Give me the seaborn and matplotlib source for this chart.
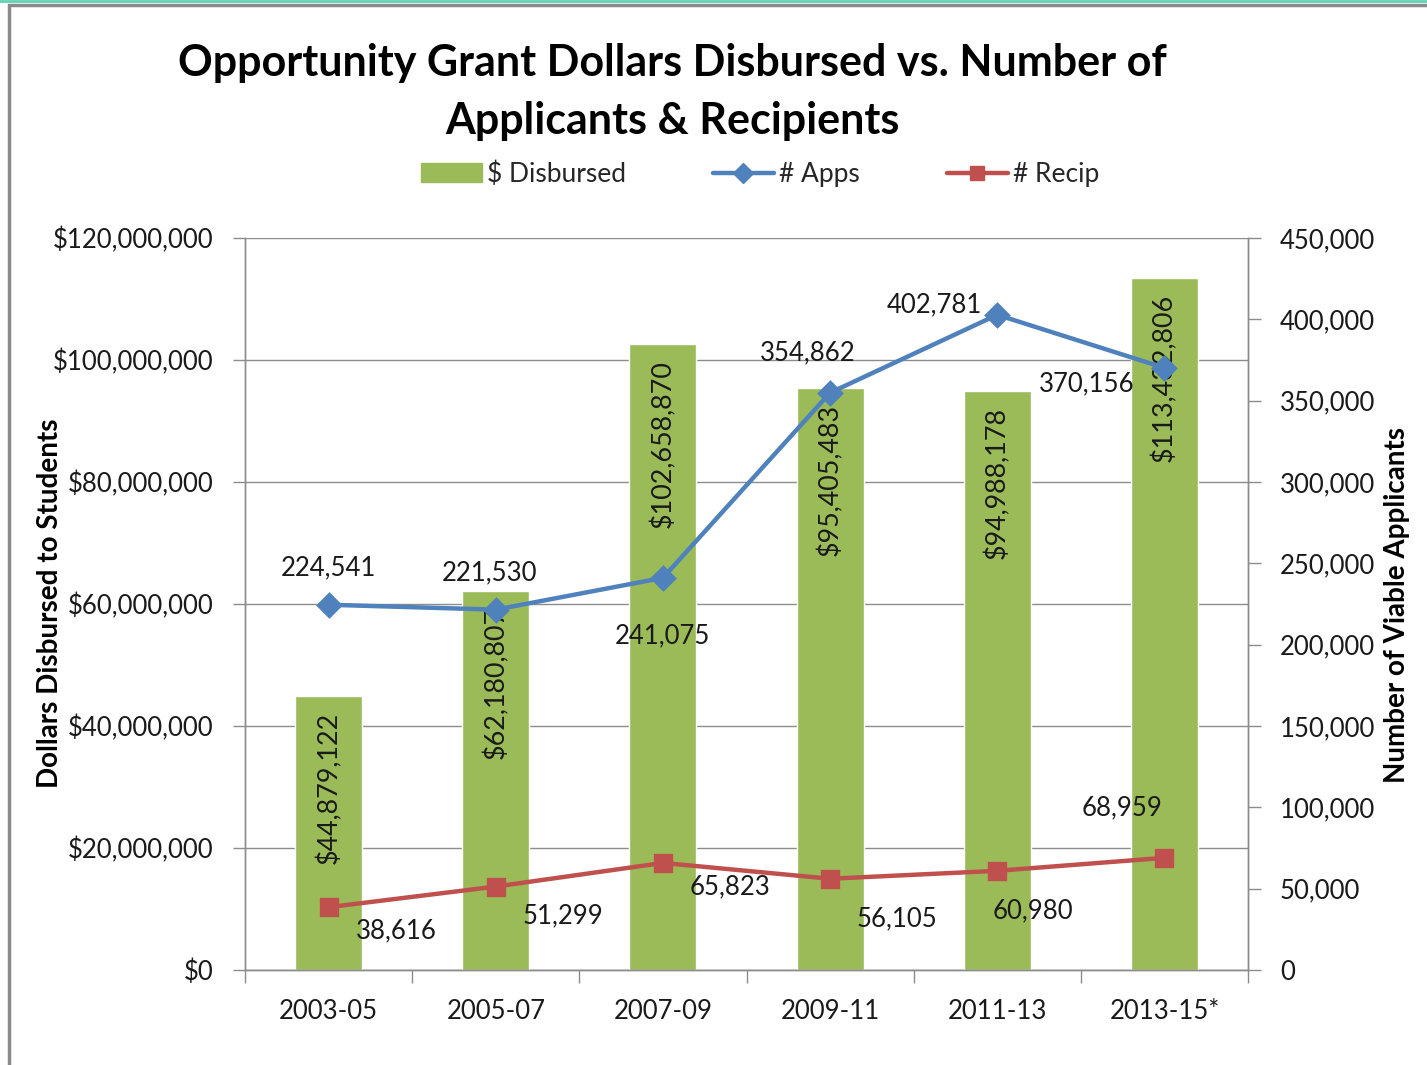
import seaborn as sns
import matplotlib.pyplot as plt
from matplotlib.ticker import FuncFormatter, MultipleLocator, FixedLocator
from matplotlib.patches import Rectangle, Patch
from matplotlib.lines import Line2D

# data
bienniums = ["2003-05", "2005-07", "2007-09", "2009-11", "2011-13", "2013-15*"]
dollars = [44879122, 62180807, 102658870, 95405483, 94988178, 113432806]
apps = [224541, 221530, 241075, 354862, 402781, 370156]
recips = [38616, 51299, 65823, 56105, 60980, 68959]

# label offsets in pixels (dx, dy) relative to each point
apps_off = [(0, 37), (-6, 37), (0, -58), (-22, 40), (-63, 10), (-78, -16)]
recip_off = [(68, -24), (67, -29), (67, -24), (67, -40), (36, -40), (-42, 50)]

GREEN = "#9BBB59"
BLUE = "#4F81BD"
RED = "#C0504D"
GRID = "#8c8c8c"
TXT = "#1a1a1a"
FS = 18.5

sns.set_style("white")
plt.rcParams["font.family"] = ["Lato", "DejaVu Sans"]

W, H = 1427, 1065
fig = plt.figure(figsize=(W / 100, H / 100), dpi=100)
ax = fig.add_axes([245 / W, 1 - 970 / H, (1248 - 245) / W, (970 - 238) / H])

sns.barplot(x=bienniums, y=dollars, color=GREEN, width=0.4, saturation=1, ax=ax)
ax.set_ylim(0, 120_000_000)
ax.yaxis.set_major_locator(MultipleLocator(20_000_000))
ax.yaxis.set_major_formatter(FuncFormatter(lambda v, p: f"${v:,.0f}"))
ax.set_axisbelow(True)
ax.grid(axis="y", color=GRID, lw=1)
ax.grid(axis="x", visible=False)

for i, v in enumerate(dollars):
    ax.annotate(f"${v:,.0f}", (i, v), xytext=(0, -16), textcoords="offset pixels",
                rotation=90, ha="center", va="top", fontsize=19.4, color=TXT)

ax2 = ax.twinx()
sns.pointplot(x=bienniums, y=apps, ax=ax2, color=BLUE, markers="D", errorbar=None,
              markersize=11, linewidth=3.2, markeredgecolor=BLUE)
sns.pointplot(x=bienniums, y=recips, ax=ax2, color=RED, markers="s", errorbar=None,
              markersize=11, linewidth=3.2, markeredgecolor=RED)
ax2.set_ylim(0, 450_000)
ax2.yaxis.set_major_locator(MultipleLocator(50_000))
ax2.yaxis.set_major_formatter(FuncFormatter(lambda v, p: f"{v:,.0f}"))
ax2.set_ylabel("")
ax2.grid(False)

for i, (v, (dx, dy)) in enumerate(zip(apps, apps_off)):
    ax2.annotate(f"{v:,}", (i, v), xytext=(dx, dy), textcoords="offset pixels",
                 ha="center", va="center", fontsize=FS, color=TXT)
for i, (v, (dx, dy)) in enumerate(zip(recips, recip_off)):
    ax2.annotate(f"{v:,}", (i, v), xytext=(dx, dy), textcoords="offset pixels",
                 ha="center", va="center", fontsize=FS, color=TXT)

ax.set_xlim(-0.5, len(bienniums) - 0.5)
ax.set_xticks(range(len(bienniums)))
ax.set_xticklabels(bienniums)
ax.xaxis.set_minor_locator(FixedLocator([i - 0.5 for i in range(len(bienniums) + 1)]))
ax.set_xlabel("")
ax.set_ylabel("")

for a in (ax, ax2):
    for s in a.spines.values():
        s.set_color(GRID)
        s.set_linewidth(1)
    a.spines["top"].set_visible(False)
ax.tick_params(axis="x", which="major", length=0, pad=21, labelsize=FS, labelcolor=TXT)
ax.tick_params(axis="x", which="minor", length=9, width=1, color=GRID, direction="out", bottom=True)
ax.tick_params(axis="y", length=9, width=1, color=GRID, direction="out", left=True, pad=14,
               labelsize=FS, labelcolor=TXT)
ax2.tick_params(axis="y", length=9, width=1, color=GRID, direction="out", right=True, pad=14,
                labelsize=FS, labelcolor=TXT)

fig.text(50 / W, 1 - 603 / H, "Dollars Disbursed to Students", rotation=90, ha="center",
         va="center", fontsize=20, fontweight="bold", color="black")
fig.text(1397 / W, 1 - 605 / H, "Number of Viable Applicants", rotation=90, ha="center",
         va="center", fontsize=20, fontweight="bold", color="black")

fig.text(672 / W, 1 - 92 / H, "Opportunity Grant Dollars Disbursed vs. Number of\nApplicants & Recipients",
         ha="center", va="center", fontsize=31, fontweight="bold", linespacing=1.52, color="black")

handles = [Patch(facecolor=GREEN, edgecolor=GREEN),
           Line2D([], [], color=BLUE, lw=3.2, marker="D", markersize=10),
           Line2D([], [], color=RED, lw=3.2, marker="s", markersize=10)]
fig.legend(handles, ["$ Disbursed", "# Apps", "# Recip"], loc="center",
           bbox_to_anchor=(760 / W, 1 - 174 / H), ncol=3, frameon=False, fontsize=19,
           columnspacing=3.3, handlelength=2.3, handletextpad=0.2)

# outer chart frame as in the screenshot
fig.patches.append(Rectangle((9 / W, -0.1), 1.5, 1.1 - 5 / H, transform=fig.transFigure,
                             fill=False, edgecolor="#8a8a8a", lw=2.5))
fig.add_artist(Line2D([0, 1], [1 - 1 / H, 1 - 1 / H], transform=fig.transFigure,
                      color="#5fd3b0", lw=2))

fig.savefig("out.png", dpi=100)
